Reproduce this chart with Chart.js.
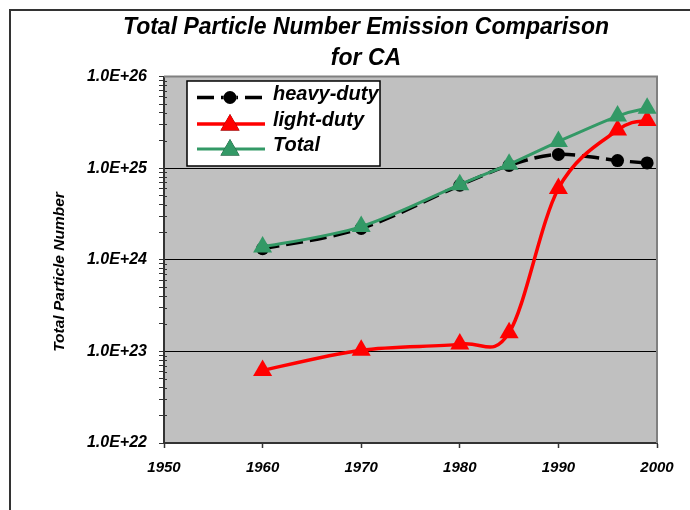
<!DOCTYPE html>
<html>
<head>
<meta charset="utf-8">
<title>Total Particle Number Emission Comparison for CA</title>
<script src="https://cdn.jsdelivr.net/npm/chart.js@4.4.1/dist/chart.umd.min.js"></script>
<style>
  html, body { margin: 0; padding: 0; background: #fff; overflow: hidden; }
  #wrap { position: relative; width: 690px; height: 510px; }
  #frame { position: absolute; left: 9px; top: 9px; width: 720px; height: 560px;
           border-top: 2px solid #333; border-left: 2px solid #333; }
  #chart { position: absolute; left: 0; top: 0; }
</style>
</head>
<body>
<div id="wrap">
  <div id="frame"></div>
  <canvas id="chart" width="690" height="510"></canvas>
</div>
<script>
// Emission totals for California, particles per year
const years      = [1960, 1970, 1980, 1985, 1990, 1996, 1999];
const heavyDuty  = [1.32e24, 2.2e24, 6.5e24, 1.07e25, 1.41e25, 1.21e25, 1.14e25];
const lightDuty  = [6.2e22, 1.03e23, 1.2e23, 1.6e23, 6.0e24, 2.6e25, 3.3e25];
const totalNum   = [1.38e24, 2.3e24, 6.6e24, 1.1e25, 1.95e25, 3.7e25, 4.5e25];

const seriesNames = ['heavy-duty', 'light-duty', 'Total'];

const xTickValues = [1950, 1960, 1970, 1980, 1990, 2000];
const xTickLabels = ['1950', '1960', '1970', '1980', '1990', '2000'];

const yDecades    = [1e22, 1e23, 1e24, 1e25, 1e26];
const yTickLabels = ['1.0E+22', '1.0E+23', '1.0E+24', '1.0E+25', '1.0E+26'];

const yTitle = 'Total Particle Number';
const chartTitle = ['Total Particle Number Emission Comparison', 'for CA'];

const FONT = "'Liberation Sans', Arial, sans-serif";

function points(values) {
  return years.map((yr, i) => ({ x: yr, y: values[i] }));
}

// log-scale tick list: every decade plus the 2..9 minor steps
function logTicks() {
  const out = [];
  for (let d = 0; d < yDecades.length; d++) {
    out.push({ value: yDecades[d], major: true });
    if (d < yDecades.length - 1) {
      for (let m = 2; m <= 9; m++) out.push({ value: yDecades[d] * m, major: false });
    }
  }
  return out;
}
function isDecade(v) {
  return yDecades.some(d => Math.abs(v / d - 1) < 1e-9);
}

// grey plot background plus the frame on the top and right
const plotArea = {
  id: 'plotArea',
  beforeDraw(chart) {
    const { ctx, chartArea: a } = chart;
    ctx.save();
    ctx.fillStyle = '#c0c0c0';
    ctx.fillRect(a.left, a.top, a.right - a.left, a.bottom - a.top);
    ctx.restore();
  },
  beforeDatasetsDraw(chart) {
    const { ctx, chartArea: a } = chart;
    const y = chart.scales.y;
    ctx.save();
    ctx.strokeStyle = '#808080';
    ctx.lineWidth = 2;
    ctx.beginPath();
    ctx.moveTo(a.left, a.top);
    ctx.lineTo(a.right, a.top);
    ctx.lineTo(a.right, a.bottom);
    ctx.stroke();
    // minor log ticks cross the axis slightly
    ctx.strokeStyle = '#333';
    ctx.lineWidth = 1;
    ctx.beginPath();
    y.ticks.forEach(t => {
      if (!isDecade(t.value)) {
        const py = Math.round(y.getPixelForValue(t.value)) + 0.5;
        ctx.moveTo(a.left, py);
        ctx.lineTo(a.left + 3, py);
      }
    });
    ctx.stroke();
    ctx.restore();
  }
};

// uniform Catmull-Rom smoothing (control handles = 1/6 of the neighbour chord)
const evenSmoothing = {
  id: 'evenSmoothing',
  beforeDatasetDraw(chart, args) {
    const line = args.meta.dataset;
    if (!line) return;
    line.updateControlPoints(chart.chartArea, 'x');
    const pts = line.points;
    for (let i = 0; i < pts.length; i++) {
      const p = pts[i];
      const prev = pts[i - 1] || p;
      const next = pts[i + 1] || p;
      const dx = (next.x - prev.x) / 6;
      const dy = (next.y - prev.y) / 6;
      p.cp1x = p.x - dx; p.cp1y = p.y - dy;
      p.cp2x = p.x + dx; p.cp2y = p.y + dy;
    }
    line._path = undefined;
  }
};

// rotated y-axis caption
const yCaption = {
  id: 'yCaption',
  afterDraw(chart) {
    const { ctx } = chart;
    ctx.save();
    ctx.translate(60, 272);
    ctx.rotate(-Math.PI / 2);
    ctx.font = `italic bold 15.5px ${FONT}`;
    ctx.fillStyle = '#000';
    ctx.textAlign = 'center';
    ctx.textBaseline = 'middle';
    ctx.fillText(yTitle, 0, 0);
    ctx.restore();
  }
};

// boxed legend sitting in the upper left of the plot
const boxLegend = {
  id: 'boxLegend',
  afterDraw(chart) {
    const { ctx } = chart;
    const box = { left: 187, top: 81, right: 380, bottom: 166 };
    const rows = [97.5, 124, 149];
    ctx.save();
    ctx.fillStyle = '#fff';
    ctx.fillRect(box.left, box.top, box.right - box.left, box.bottom - box.top);
    ctx.strokeStyle = '#000';
    ctx.lineWidth = 1.5;
    ctx.strokeRect(box.left, box.top, box.right - box.left, box.bottom - box.top);
    chart.data.datasets.forEach((ds, i) => {
      const y = rows[i];
      ctx.save();
      ctx.strokeStyle = ds.borderColor;
      ctx.lineWidth = ds.borderWidth;
      ctx.setLineDash(ds.borderDash || []);
      ctx.beginPath();
      ctx.moveTo(197, y);
      ctx.lineTo(265, y);
      ctx.stroke();
      ctx.restore();
      Chart.helpers.drawPoint(ctx, {
        pointStyle: ds.pointStyle,
        radius: ds.pointRadius,
        borderWidth: 0
      }, 230, ds.pointStyle === 'triangle' ? y + 1 : y);
      ctx.fillStyle = ds.pointBackgroundColor;
      ctx.fill();
      ctx.fillStyle = '#000';
      ctx.font = `italic bold 20px ${FONT}`;
      ctx.textAlign = 'left';
      ctx.textBaseline = 'alphabetic';
      ctx.fillText(ds.label, 273, y + 2);
    });
    ctx.restore();
  }
};

new Chart(document.getElementById('chart'), {
  type: 'line',
  data: {
    datasets: [
      {
        label: seriesNames[0],
        data: points(heavyDuty),
        borderColor: '#000',
        backgroundColor: '#000',
        borderWidth: 3.5,
        borderDash: [17, 7],
        pointStyle: 'circle',
        pointRadius: 6.5,
        pointBackgroundColor: '#000',
        pointBorderWidth: 0,
        tension: 0.35,
        order: 2
      },
      {
        label: seriesNames[1],
        data: points(lightDuty),
        borderColor: '#ff0000',
        backgroundColor: '#ff0000',
        borderWidth: 3.5,
        pointStyle: 'triangle',
        pointRadius: 11,
        pointBackgroundColor: '#ff0000',
        pointBorderWidth: 0,
        tension: 0.35,
        order: 1
      },
      {
        label: seriesNames[2],
        data: points(totalNum),
        borderColor: '#339966',
        backgroundColor: '#339966',
        borderWidth: 3,
        pointStyle: 'triangle',
        pointRadius: 11,
        pointBackgroundColor: '#339966',
        pointBorderWidth: 0,
        tension: 0.35,
        order: 0
      }
    ]
  },
  options: {
    responsive: false,
    animation: false,
    events: [],
    layout: { padding: { left: 75, right: 33, top: 0, bottom: 0 } },
    plugins: {
      legend: { display: false },
      tooltip: { enabled: false },
      title: {
        display: true,
        text: chartTitle,
        color: '#000',
        font: { family: FONT, size: 23, weight: 'bold', style: 'italic', lineHeight: 31 / 23 },
        padding: { top: 12, bottom: 2.5 }
      }
    },
    scales: {
      x: {
        type: 'linear',
        min: 1950,
        max: 2000,
        afterFit(scale) { scale.height = 67; },
        afterBuildTicks(scale) {
          scale.ticks = xTickValues.map(v => ({ value: v }));
        },
        ticks: {
          autoSkip: false,
          maxRotation: 0,
          padding: 11,
          color: '#000',
          font: { family: FONT, size: 15, weight: 'bold', style: 'italic' },
          callback: (v, i) => xTickLabels[i]
        },
        grid: {
          drawOnChartArea: false,
          drawTicks: true,
          tickLength: 5,
          tickColor: '#333',
          tickWidth: 1.5
        },
        border: { display: true, color: '#333', width: 2 }
      },
      y: {
        type: 'logarithmic',
        min: 1e22,
        max: 1e26,
        afterFit(scale) { scale.width = 89; },
        afterBuildTicks(scale) { scale.ticks = logTicks(); },
        ticks: {
          autoSkip: false,
          padding: 12,
          color: '#000',
          font: { family: FONT, size: 16, weight: 'bold', style: 'italic' },
          callback: (v) => {
            const i = yDecades.findIndex(d => Math.abs(v / d - 1) < 1e-9);
            return i >= 0 ? yTickLabels[i] : '';
          }
        },
        grid: {
          drawTicks: true,
          tickLength: 5,
          tickWidth: 1,
          tickColor: '#333',
          lineWidth: 1,
          color: (c) => {
            const v = c.tick && c.tick.value;
            if (v === undefined) return 'rgba(0,0,0,0)';
            if (isDecade(v) && v > 1.5e22 && v < 5e25) return '#000';
            return 'rgba(0,0,0,0)';
          }
        },
        border: { display: true, color: '#333', width: 2 }
      }
    }
  },
  plugins: [plotArea, evenSmoothing, yCaption, boxLegend]
});
</script>
</body>
</html>
